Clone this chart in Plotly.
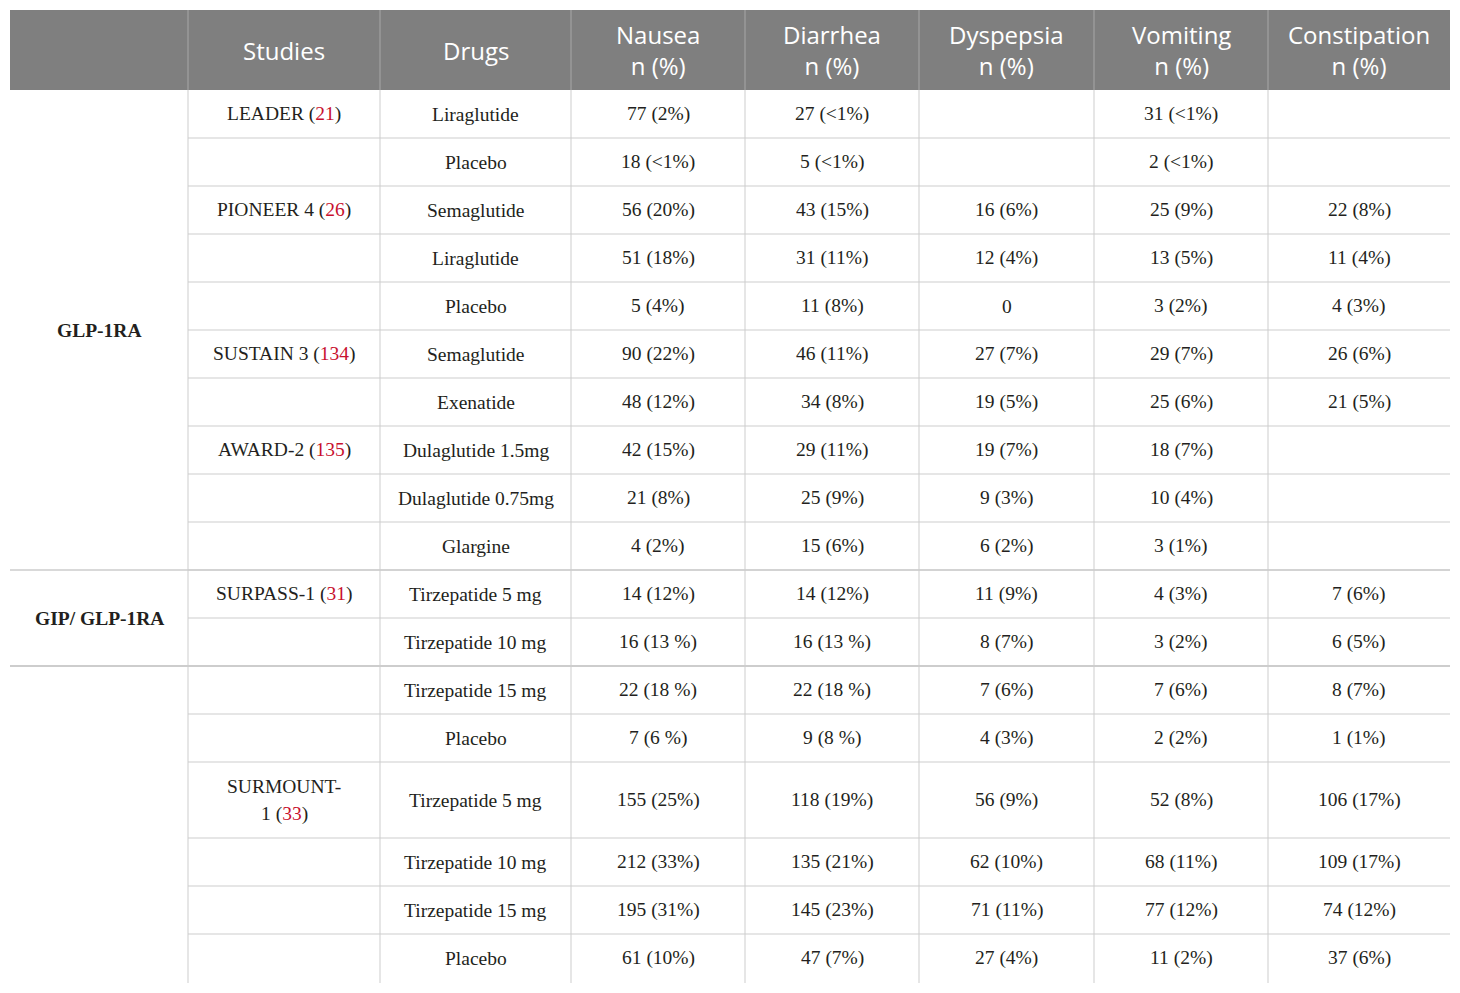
import numpy as np
import plotly.graph_objects as go

# ---- table content ----
header = ["", "Studies", "Drugs", "Nausea<br>n (%)", "Diarrhea<br>n (%)",
          "Dyspepsia<br>n (%)", "Vomiting<br>n (%)", "Constipation<br>n (%)"]

classes = ["GLP-1RA", "GIP/ GLP-1RA", ""]
class_sizes = [10, 2, 6]

studies = ["LEADER", "", "PIONEER 4", "", "", "SUSTAIN 3", "", "AWARD-2", "", "",
           "SURPASS-1", "", "", "", "SURMOUNT-<br>1", "", "", ""]
study_refs = ["21", "", "26", "", "", "134", "", "135", "", "",
              "31", "", "", "", "33", "", "", ""]

drugs = ["Liraglutide", "Placebo", "Semaglutide", "Liraglutide", "Placebo",
         "Semaglutide", "Exenatide", "Dulaglutide 1.5mg", "Dulaglutide 0.75mg", "Glargine",
         "Tirzepatide 5 mg", "Tirzepatide 10 mg", "Tirzepatide 15 mg", "Placebo",
         "Tirzepatide 5 mg", "Tirzepatide 10 mg", "Tirzepatide 15 mg", "Placebo"]

nausea = ["77 (2%)", "18 (<1%)", "56 (20%)", "51 (18%)", "5 (4%)", "90 (22%)", "48 (12%)",
          "42 (15%)", "21 (8%)", "4 (2%)", "14 (12%)", "16 (13 %)", "22 (18 %)", "7 (6 %)",
          "155 (25%)", "212 (33%)", "195 (31%)", "61 (10%)"]
diarrhea = ["27 (<1%)", "5 (<1%)", "43 (15%)", "31 (11%)", "11 (8%)", "46 (11%)", "34 (8%)",
            "29 (11%)", "25 (9%)", "15 (6%)", "14 (12%)", "16 (13 %)", "22 (18 %)", "9 (8 %)",
            "118 (19%)", "135 (21%)", "145 (23%)", "47 (7%)"]
dyspepsia = ["", "", "16 (6%)", "12 (4%)", "0", "27 (7%)", "19 (5%)",
             "19 (7%)", "9 (3%)", "6 (2%)", "11 (9%)", "8 (7%)", "7 (6%)", "4 (3%)",
             "56 (9%)", "62 (10%)", "71 (11%)", "27 (4%)"]
vomiting = ["31 (<1%)", "2 (<1%)", "25 (9%)", "13 (5%)", "3 (2%)", "29 (7%)", "25 (6%)",
            "18 (7%)", "10 (4%)", "3 (1%)", "4 (3%)", "3 (2%)", "7 (6%)", "2 (2%)",
            "52 (8%)", "68 (11%)", "77 (12%)", "11 (2%)"]
constipation = ["", "", "22 (8%)", "11 (4%)", "4 (3%)", "26 (6%)", "21 (5%)",
                "", "", "", "7 (6%)", "6 (5%)", "8 (7%)", "1 (1%)",
                "106 (17%)", "109 (17%)", "74 (12%)", "37 (6%)"]

# ---- layout geometry (pixels, page body has an 8px margin) ----
W, H = 1460, 993
X0, Y0 = 2, 2
col_widths = [178, 192, 191, 174, 174, 175, 174, 182]
header_h = 80
row_heights = [48] * 18
row_heights[14] = 76
LINE_GAP = 28

HEADER_BG = "#7f7f7f"
HEADER_LINE = "#a8a8a8"
GRID = "#cdcdcd"
TEXT = "#231f20"
REF = "#c8102e"
SANS = "Open Sans"
SERIF = "Liberation Serif"

col_edges = X0 + np.concatenate([[0], np.cumsum(col_widths)])
row_edges = Y0 + header_h + np.concatenate([[0], np.cumsum(row_heights)])
col_mid = (col_edges[:-1] + col_edges[1:]) / 2
row_mid = (row_edges[:-1] + row_edges[1:]) / 2
body_bottom = row_edges[-1] + 1

fig = go.Figure()
shapes = []
annotations = []


def add_text(x, y, text, font):
    # one annotation per line so the line spacing matches the original
    lines = text.split("<br>")
    for k, line in enumerate(lines):
        dy = (k - (len(lines) - 1) / 2) * LINE_GAP
        annotations.append(dict(x=x, y=y + dy, text=line, showarrow=False, font=font,
                                xanchor="center", yanchor="middle"))


head_font = dict(family=SANS, size=24, color="white")
body_font = dict(family=SERIF, size=19.5, color=TEXT)

# header band
shapes.append(dict(type="rect", x0=col_edges[0], x1=col_edges[-1], y0=Y0, y1=Y0 + header_h,
                   fillcolor=HEADER_BG, line_width=0, layer="below"))
for x in col_edges[1:-1]:
    shapes.append(dict(type="line", x0=x, x1=x, y0=Y0, y1=Y0 + header_h,
                       line=dict(color=HEADER_LINE, width=1)))
for txt, xm in zip(header, col_mid):
    if txt:
        annotations.append(dict(x=xm, y=Y0 + header_h / 2, text=txt, showarrow=False,
                                font=head_font, xanchor="center", yanchor="middle"))

# body vertical lines
for x in col_edges[1:-1]:
    shapes.append(dict(type="line", x0=x, x1=x, y0=row_edges[0], y1=body_bottom,
                       line=dict(color=GRID, width=1)))

# body horizontal lines (inner columns)
for y in row_edges[1:-1]:
    shapes.append(dict(type="line", x0=col_edges[1], x1=col_edges[-1], y0=y, y1=y,
                       line=dict(color=GRID, width=1)))

# class group lines and labels
starts = np.concatenate([[0], np.cumsum(class_sizes)])
for i, (label, s, e) in enumerate(zip(classes, starts[:-1], starts[1:])):
    if i > 0:
        y = row_edges[s]
        shapes.append(dict(type="line", x0=col_edges[0], x1=col_edges[-1], y0=y, y1=y,
                           line=dict(color=GRID, width=1.5 if i == 1 else 2)))
    if label:
        add_text(col_mid[0], (row_edges[s] + row_edges[e]) / 2, "<b>" + label + "</b>",
                 body_font)

# body cells
columns = [drugs, nausea, diarrhea, dyspepsia, vomiting, constipation]
for r in range(len(drugs)):
    if studies[r]:
        txt = studies[r] + ' (<span style="color:%s">%s</span>)' % (REF, study_refs[r])
        add_text(col_mid[1], row_mid[r], txt, body_font)
    for c, col in enumerate(columns):
        if col[r]:
            add_text(col_mid[c + 2], row_mid[r], col[r], body_font)

fig.update_layout(
    width=W, height=H,
    margin=dict(l=0, r=0, t=0, b=0),
    paper_bgcolor="white", plot_bgcolor="white",
    xaxis=dict(range=[0, W], visible=False, fixedrange=True),
    yaxis=dict(range=[H, 0], visible=False, fixedrange=True),
    shapes=shapes, annotations=annotations,
    showlegend=False,
)

fig.write_html("out.html")
